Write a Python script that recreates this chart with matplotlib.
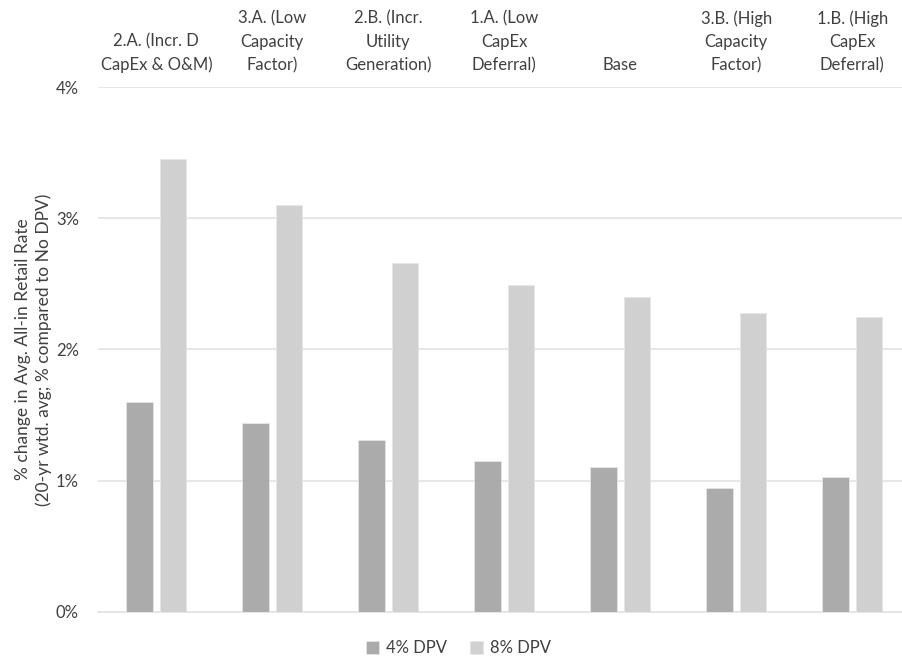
import numpy as np
import matplotlib.pyplot as plt
from matplotlib.ticker import PercentFormatter

plt.rcParams['font.family'] = ['Lato', 'DejaVu Sans']

# scenarios, ordered by 8% DPV impact
scenarios = ['2.A. (Incr. D\nCapEx & O&M)', '3.A. (Low\nCapacity\nFactor)',
             '2.B. (Incr.\nUtility\nGeneration)', '1.A. (Low\nCapEx\nDeferral)',
             'Base', '3.B. (High\nCapacity\nFactor)', '1.B. (High\nCapEx\nDeferral)']
dpv_4 = [1.60, 1.44, 1.31, 1.15, 1.10, 0.94, 1.03]
dpv_8 = [3.45, 3.10, 2.66, 2.49, 2.40, 2.28, 2.25]
yticks = [0, 1, 2, 3, 4]

text_c = '#404040'
grid_c = '#e3e3e3'

fig = plt.figure(figsize=(9.03, 6.58), dpi=100)
ax = fig.add_axes([0.1089, 0.0704, 0.8911, 0.7969])

x = np.arange(len(scenarios))
w = 0.23
off = 0.143
ax.bar(x - off, dpv_4, w, color='#ababab', edgecolor='#e6e6e6', linewidth=0.6,
       label='4% DPV', zorder=3)
ax.bar(x + off, dpv_8, w, color='#d0d0d0', edgecolor='#e6e6e6', linewidth=0.6,
       label='8% DPV', zorder=3)

ax.set_xlim(-0.5, 6.437)
ax.set_ylim(0, 4)
ax.set_yticks(yticks)
ax.yaxis.set_major_formatter(PercentFormatter(decimals=0))
ax.grid(axis='y', color=grid_c, linewidth=1.2, zorder=0)
for s in ['top', 'right', 'left']:
    ax.spines[s].set_visible(False)
ax.spines['bottom'].set_color(grid_c)
ax.spines['bottom'].set_linewidth(1.2)

# scenario names sit above the plot
ax.xaxis.tick_top()
ax.set_xticks(x)
ax.set_xticklabels(scenarios, fontsize=12, color=text_c, linespacing=1.55)
ax.tick_params(axis='x', length=0, pad=10)
ax.tick_params(axis='y', length=0, pad=14, labelsize=12, labelcolor=text_c)

ax.set_ylabel('% change in Avg. All-in Retail Rate\n(20-yr wtd. avg; % compared to No DPV)',
              fontsize=12.5, color=text_c, labelpad=3, linespacing=1.3)

fig.legend(loc='center', bbox_to_anchor=(458.5 / 903, 1 - 648 / 658), ncol=2,
           frameon=False, fontsize=12, labelcolor=text_c, handlelength=0.8,
           handleheight=0.8, handletextpad=0.4, columnspacing=1.4)

fig.savefig('out.png', dpi=100)
